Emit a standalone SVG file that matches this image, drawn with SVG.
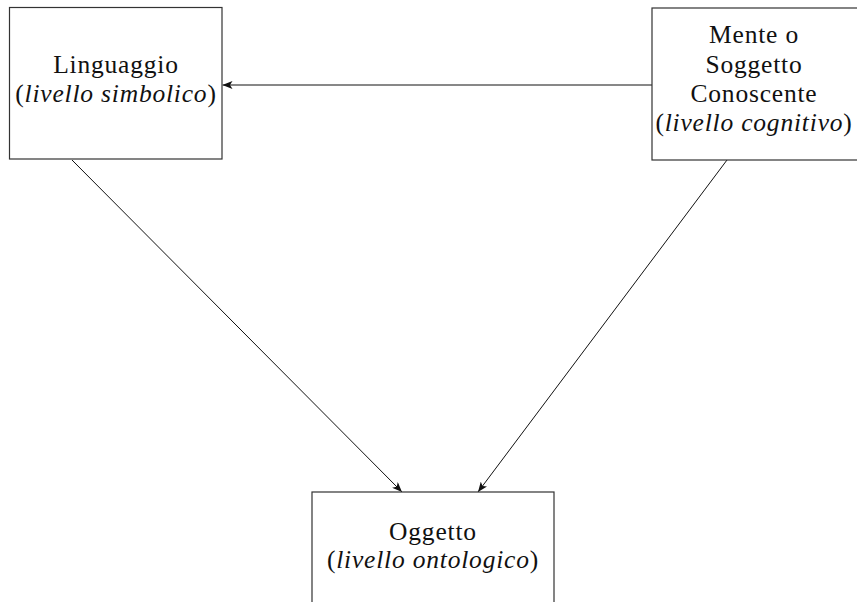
<svg xmlns="http://www.w3.org/2000/svg" width="857" height="602" viewBox="0 0 857 602">
<style>
.box{fill:#fff;stroke:#333;stroke-width:1.2}
.t{font-family:"Liberation Serif","DejaVu Serif",serif;font-size:25.5px;letter-spacing:0.8px;fill:#111;text-anchor:middle}
.i{font-style:italic}
.c{stroke:#111;stroke-width:1;fill:none;marker-end:url(#ah)}
</style>
<defs>
<marker id="ah" viewBox="0 0 10 8" refX="10" refY="4" markerWidth="10" markerHeight="8" markerUnits="userSpaceOnUse" orient="auto">
<path d="M0,0 L10,4 L0,8 L2.5,4 Z" fill="#111"/>
</marker>
</defs>
<rect width="857" height="602" fill="#fff"/>
<g id="connectors">
<line class="c" x1="652" y1="85" x2="222.5" y2="85"/>
<line class="c" x1="72" y1="160" x2="402" y2="492"/>
<line class="c" x1="727" y1="160" x2="478" y2="492"/>
</g>
<g id="linguaggio">
<rect class="box" x="9.5" y="7.5" width="212.5" height="151.5"/>
<text class="t" x="116" y="73">Linguaggio</text>
<text class="t" x="116" y="102">(<tspan class="i">livello simbolico</tspan>)</text>
</g>
<g id="mente">
<rect class="box" x="652" y="8" width="210" height="152"/>
<text class="t" x="754" y="43">Mente o</text>
<text class="t" x="754" y="73">Soggetto</text>
<text class="t" x="754" y="102">Conoscente</text>
<text class="t" x="754" y="131">(<tspan class="i">livello cognitivo</tspan>)</text>
</g>
<g id="oggetto">
<rect class="box" x="312" y="492" width="242" height="120"/>
<text class="t" x="433" y="540">Oggetto</text>
<text class="t" x="433" y="568">(<tspan class="i">livello ontologico</tspan>)</text>
</g>
</svg>
